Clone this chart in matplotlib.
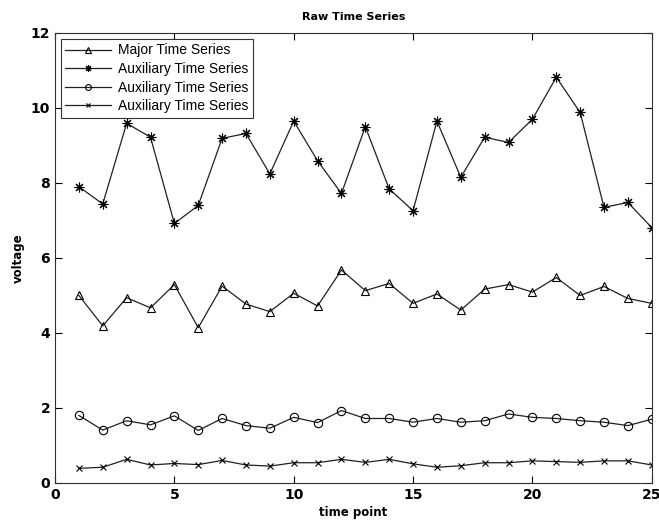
import matplotlib
matplotlib.use('Agg')
import matplotlib.pyplot as plt
import numpy as np

# Donnees
temps = np.arange(1, 26)
serie_majeure = [5.00, 4.19, 4.94, 4.67, 5.29, 4.14, 5.25, 4.77, 4.57, 5.06,
                 4.72, 5.68, 5.13, 5.32, 4.79, 5.04, 4.61, 5.17, 5.29, 5.09,
                 5.48, 5.00, 5.24, 4.92, 4.79]
serie_aux_etoile = [7.90, 7.44, 9.59, 9.22, 6.92, 7.40, 9.19, 9.32, 8.24, 9.65,
                    8.59, 7.72, 9.50, 7.84, 7.26, 9.65, 8.15, 9.22, 9.08, 9.70,
                    10.82, 9.88, 7.35, 7.48, 6.81]
serie_aux_cercle = [1.80, 1.41, 1.66, 1.55, 1.79, 1.40, 1.72, 1.53, 1.46, 1.75,
                    1.61, 1.93, 1.72, 1.72, 1.62, 1.72, 1.62, 1.66, 1.84, 1.75,
                    1.72, 1.66, 1.62, 1.53, 1.70]
serie_aux_croix = [0.39, 0.42, 0.63, 0.48, 0.52, 0.49, 0.60, 0.48, 0.45, 0.54,
                   0.54, 0.63, 0.55, 0.63, 0.51, 0.42, 0.46, 0.54, 0.54, 0.59,
                   0.57, 0.55, 0.59, 0.59, 0.48]
etiquettes = ['Major Time Series', 'Auxiliary Time Series',
              'Auxiliary Time Series', 'Auxiliary Time Series']

fig = plt.figure(figsize=(6.59, 5.20), dpi=100)
ax = fig.add_axes([0.0835, 0.0712, 0.9055, 0.8654])

style = dict(color='#202020', lw=0.9, mfc='none', mec='black', mew=0.8)
ax.plot(temps, serie_majeure, marker='^', ms=6, label=etiquettes[0], **style)
# asterisque facon MATLAB (+ et x superposes)
ax.plot(temps, serie_aux_etoile, marker=(8, 2, 0), ms=7, label=etiquettes[1], **style)
ax.plot(temps, serie_aux_cercle, marker='o', ms=6, label=etiquettes[2], **style)
ax.plot(temps, serie_aux_croix, marker='x', ms=5, label=etiquettes[3], **style)

ax.set_xlim(0, 25)
ax.set_ylim(0, 12)
ax.set_xticks(range(0, 26, 5))
ax.set_yticks(range(0, 13, 2))
ax.tick_params(direction='in', top=True, right=True, length=5, width=0.8,
               labelsize=10)
for lab in ax.get_xticklabels() + ax.get_yticklabels():
    lab.set_fontweight('bold')
for sp in ax.spines.values():
    sp.set_linewidth(0.8)
    sp.set_color('#303030')

ax.set_title('Raw Time Series', fontsize=8, fontweight='bold', pad=9)
ax.set_xlabel('time point', fontsize=8.5, fontweight='bold', labelpad=3)
ax.set_ylabel('voltage', fontsize=8.5, fontweight='bold', labelpad=4)

leg = ax.legend(loc='upper left', prop={'family': 'Liberation Sans', 'size': 10},
                frameon=True, fancybox=False, borderpad=0.35, labelspacing=0.33,
                handlelength=3.3, handletextpad=0.5, borderaxespad=0.4,
                markerscale=0.7)
leg.get_frame().set_edgecolor('black')
leg.get_frame().set_linewidth(0.8)

fig.savefig('out.png', dpi=100)
